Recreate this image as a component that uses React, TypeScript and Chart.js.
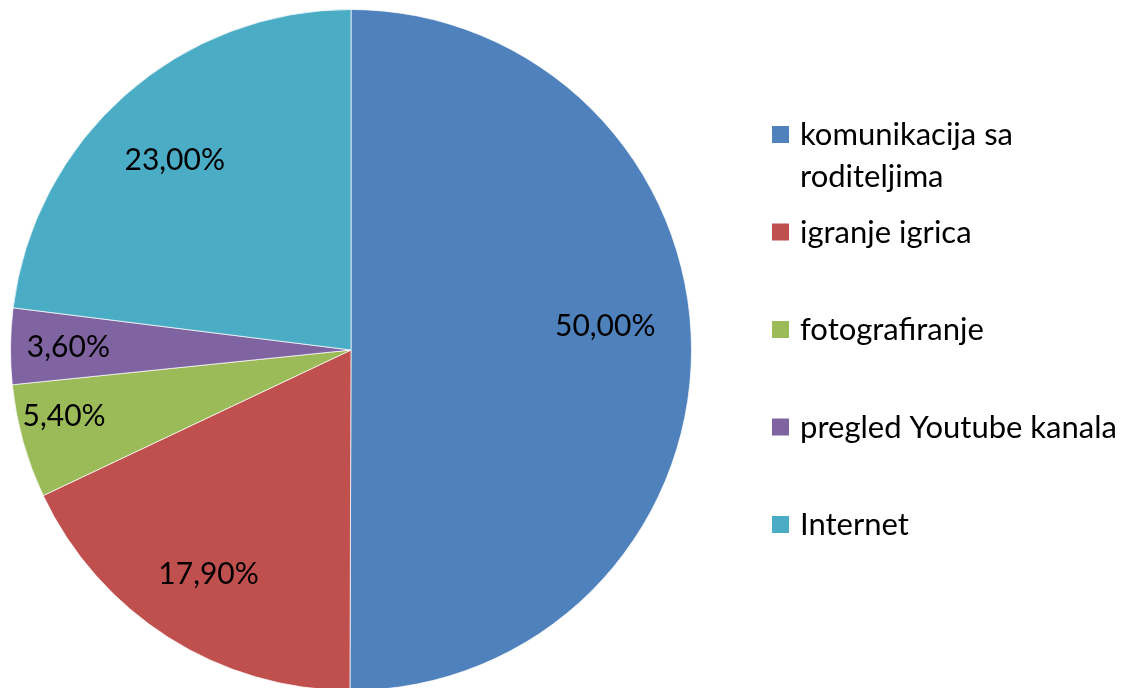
import React, { useEffect, useRef } from "react";
import { Chart, registerables } from "chart.js";

Chart.register(...registerables);

const categories: string[][] = [
  ["komunikacija sa", "roditeljima"],
  ["igranje igrica"],
  ["fotografiranje"],
  ["pregled Youtube kanala"],
  ["Internet"],
];
const values: number[] = [50.0, 17.9, 5.4, 3.6, 23.0];
const valueLabels: string[] = ["50,00%", "17,90%", "5,40%", "3,60%", "23,00%"];
const colors: string[] = ["#4F81BD", "#C0504D", "#9BBB59", "#8064A2", "#4BACC6"];
const labelRadiusFrac: number[] = [0.75, 0.78, 0.865, 0.83, 0.76];
const labelAngleShift: number[] = [-5.5, 0, 2.5, 0, -1.5];

const FONT = "Lato, 'Open Sans', sans-serif";

const labelPlugin = {
  id: "sliceLabels",
  afterDatasetsDraw(chart: any) {
    const ctx = chart.ctx;
    const meta = chart.getDatasetMeta(0);
    ctx.save();
    ctx.fillStyle = "#000";
    ctx.font = `30px ${FONT}`;
    ctx.textAlign = "center";
    ctx.textBaseline = "middle";
    meta.data.forEach((arc: any, i: number) => {
      const { x, y, startAngle, endAngle, outerRadius } = arc.getProps(
        ["x", "y", "startAngle", "endAngle", "outerRadius"],
        true
      );
      const mid = (startAngle + endAngle) / 2 + (labelAngleShift[i] * Math.PI) / 180;
      const r = outerRadius * labelRadiusFrac[i];
      ctx.fillText(valueLabels[i], x + Math.cos(mid) * r, y + Math.sin(mid) * r);
    });
    ctx.restore();
  },
};

const legendPlugin = {
  id: "sideLegend",
  afterDraw(chart: any) {
    const ctx = chart.ctx;
    const area = chart.chartArea;
    const x0 = area.right + 80;
    const lineH = 42;
    const step = 97.5;
    ctx.save();
    ctx.font = `31px ${FONT}`;
    ctx.textBaseline = "middle";
    ctx.textAlign = "left";
    categories.forEach((lines, i) => {
      const y = 135 + i * step;
      ctx.fillStyle = colors[i];
      ctx.fillRect(x0, y - 9, 17, 17);
      ctx.fillStyle = "#000";
      lines.forEach((t, j) => {
        ctx.fillText(t, x0 + 28, y + j * lineH);
      });
    });
    ctx.restore();
  },
};

export default function App() {
  const ref = useRef<HTMLCanvasElement | null>(null);
  useEffect(() => {
    document.body.style.margin = "0";
    if (!ref.current) return;
    const chart = new Chart(ref.current, {
      type: "pie",
      data: {
        labels: categories.map((c) => c.join(" ")),
        datasets: [
          {
            data: values,
            backgroundColor: colors,
            borderColor: "rgba(255,255,255,0.7)",
            borderWidth: 1,
          },
        ],
      },
      options: {
        animation: false,
        responsive: false,
        maintainAspectRatio: false,
        layout: { padding: { left: 10, top: 9, right: 435, bottom: 1 } },
        plugins: {
          legend: { display: false },
          tooltip: { enabled: false },
        },
      },
      plugins: [labelPlugin, legendPlugin],
    });
    return () => chart.destroy();
  }, []);
  return (
    <div style={{ position: "relative", width: 1127, height: 688, overflow: "hidden", background: "#fff" }}>
      <canvas ref={ref} width={1127} height={692} style={{ display: "block" }} />
    </div>
  );
}
